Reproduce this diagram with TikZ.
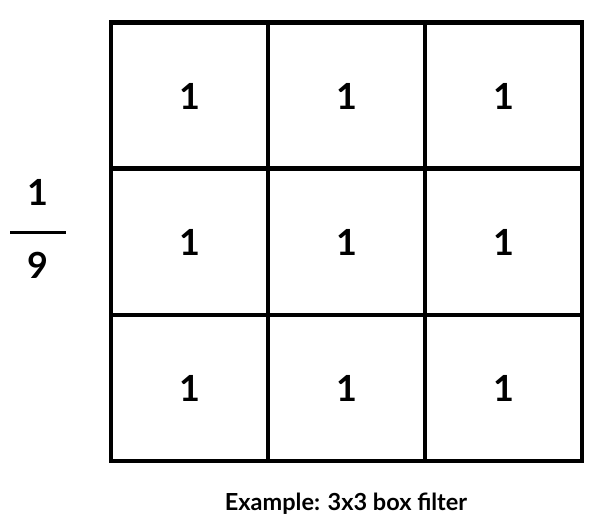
\documentclass[tikz,border=0pt]{standalone}
\usepackage{fontspec}
\setmainfont{Lato}
\tikzset{
  gridline/.style={line width=4.5pt, line cap=rect},
  cellnum/.style={font=\fontsize{36}{40}\selectfont\bfseries},
}
\begin{document}
\begin{tikzpicture}[x=1pt,y=-1pt]
            \useasboundingbox (0,0) rectangle (606,525);
            \foreach \i in {0,1,2,3} {
                \draw[gridline] ({111+157*\i},22.5) -- ({111+157*\i},461);
                \draw[gridline] (111,{22.5+146.2*\i}) -- (582,{22.5+146.2*\i});
            }
            \foreach \r in {0,1,2} {
                \foreach \c in {0,1,2} {
                    \node[cellnum] (c-\r-\c) at ({189.5+157*\c},{96+146.2*\r}) {1};
                }
            }
            \node[cellnum] (num) at (38,192) {1};
            \node[cellnum] (den) at (38,265) {9};
            \coordinate (barl) at (10,232);
            \coordinate (barr) at (66,232);
            \draw[line width=3pt] (barl) -- (barr);
            \node[font=\fontsize{23.5}{27}\selectfont\bfseries] (caption) at (346,504) {Example: 3x3 box filter};
        \end{tikzpicture}
\end{document}
